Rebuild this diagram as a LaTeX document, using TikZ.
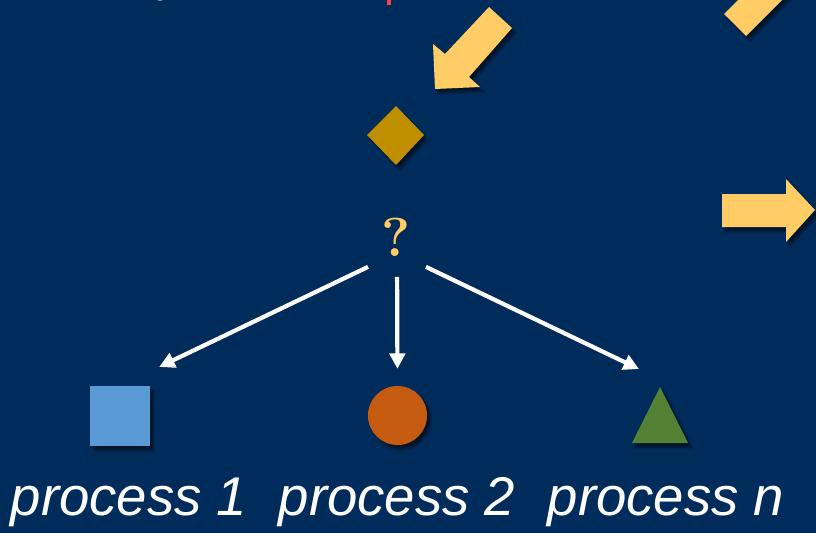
\documentclass[tikz,border=0pt]{standalone}
\usepackage{fontspec}
\newfontfamily\labelfont{Liberation Sans}
\usepackage{tikz}
\usetikzlibrary{arrows.meta, shadows.blur}
\tikzset{>={Triangle[length=11pt, width=11pt]}}
\definecolor{mynavy}{RGB}{0, 44, 92}
\definecolor{myyellow}{RGB}{255, 204, 102}
\definecolor{mygold}{RGB}{191, 143, 0}
\definecolor{myblue}{RGB}{91, 155, 213}
\definecolor{myorange}{RGB}{197, 90, 17}
\definecolor{mygreen}{RGB}{84, 130, 53}
\definecolor{myred}{RGB}{255, 64, 64}
\definecolor{mygray}{RGB}{120, 130, 150}
\tikzset{
  shade/.style = {blur shadow = {shadow xshift = 2.5pt, shadow yshift = -3pt, shadow opacity = 55, shadow blur steps = 6}},
  flow/.style = {->, white, line width = 3pt},
  proclabel/.style = {text = white, anchor = base, inner sep = 0pt, font = \labelfont\fontsize{38.8}{40}\selectfont\itshape}
}

\begin{document}
\begin{tikzpicture}[x = 0.025cm, y = -0.025cm]
\useasboundingbox (0,0) rectangle (816,533);
\fill[mynavy] (0,0) rectangle (816,533);
\fill[myred] (387,-2) rectangle (391,5);
\fill[mygray] (158,-2) rectangle (162,1);

% big arrows
\fill[shade, myyellow] (489,7) -- (512,28) -- (469,77) -- (480,87) -- (435,89) -- (433,44) -- (445,54) -- cycle;
\fill[shade, myyellow] (724,14) -- (746,36) -- (796,-14) -- (774,-36) -- cycle;
\fill[shade, myyellow] (722,194) -- (786,194) -- (786,179) -- (815,210) -- (786,242) -- (786,227) -- (722,227) -- cycle;

\fill[shade, mygold] (396,106) -- (424,135) -- (396,165) -- (367,135) -- cycle;
\node[text = myyellow, inner sep = 0pt, font = \fontsize{39}{40}\selectfont\bfseries] (q) at (396,237.5) {?};
\coordinate (fork) at (397,253);

\node[shade, fill = myblue, minimum size = 42.7pt, inner sep = 0pt] (sq) at (120,416) {};
\node[shade, circle, fill = myorange, minimum size = 42pt, inner sep = 0pt] (ci) at (397.5,415.5) {};
\fill[shade, mygreen] (632,443) -- (660,387) -- (688,443) -- cycle;
\coordinate (tipn) at (639,369);

\draw[flow, shorten <= 22.8pt, shorten >= 30.9pt] (fork) -- (sq.north);
\draw[flow, shorten <= 17pt, shorten >= 12pt] (fork) -- (ci.north);
\draw[flow, shorten <= 22.8pt] (fork) -- (tipn);

\node[proclabel] (p1) at (129,515) {process 1};
\node[proclabel] (p2) at (397,515) {process 2};
\node[proclabel] (pn) at (666,515) {process n};
\end{tikzpicture}
\end{document}
